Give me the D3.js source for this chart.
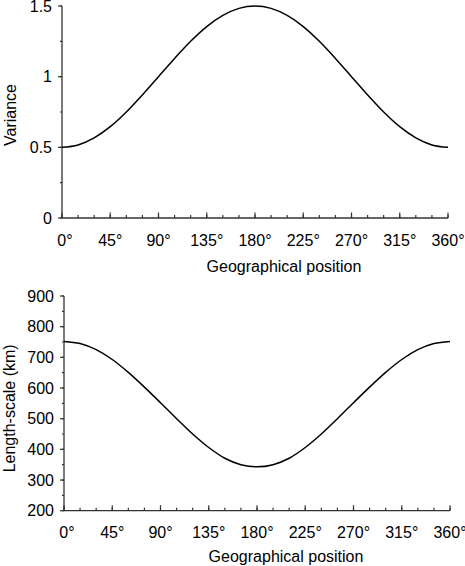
<html lang="en">
<head>
<meta charset="UTF-8">
<script src="https://d3js.org/d3.v7.min.js"></script>
<style>
  body { margin: 0; background: #fff; }
  text { font-family: "Liberation Sans", Arial, Helvetica, sans-serif; fill: #000; }
  .curve { fill: none; stroke: #000; stroke-width: 1.5; }
  .axis-line { stroke: #333; stroke-width: 1.3; }
  .tick { stroke: #333; stroke-width: 1.2; }
</style>
<script>
// geographical position (degrees), read every 15 degrees
var positions = [0, 15, 30, 45, 60, 75, 90, 105, 120, 135, 150, 165, 180,
                 195, 210, 225, 240, 255, 270, 285, 300, 315, 330, 345, 360];
var variance = [0.5, 0.517, 0.567, 0.646, 0.75, 0.871, 1.0, 1.129, 1.25, 1.354, 1.433, 1.483, 1.5,
                1.483, 1.433, 1.354, 1.25, 1.129, 1.0, 0.871, 0.75, 0.646, 0.567, 0.517, 0.5];
var lengthScale = [752, 745, 725, 693, 651, 603, 552, 500, 450, 406, 371, 350, 343,
                   350, 371, 406, 450, 500, 552, 603, 651, 693, 725, 745, 752];
var xTicks = [0, 45, 90, 135, 180, 225, 270, 315, 360];
var xMinor = d3.range(0, 361, 15);
var varTicks = [0, 0.5, 1, 1.5];
var varMinor = d3.range(0, 1.51, 0.25);
var lenTicks = [200, 300, 400, 500, 600, 700, 800, 900];
var lenMinor = d3.range(200, 901, 50);

function panel(svg, o){
  var x = d3.scaleLinear().domain([0, 360]).range([o.left, o.right]);
  var y = d3.scaleLinear().domain(o.domain).range([o.bottom, o.top]);
  var g = svg.append("g");

  // y axis
  g.append("line").attr("class", "axis-line")
    .attr("x1", o.left).attr("x2", o.left).attr("y1", o.bottom).attr("y2", o.top);
  g.selectAll(".ymin").data(o.minor).enter().append("line").attr("class", "tick")
    .attr("x1", o.left - 2).attr("x2", o.left)
    .attr("y1", function(d){ return y(d); }).attr("y2", function(d){ return y(d); });
  g.selectAll(".ymaj").data(o.ticks).enter().append("line").attr("class", "tick")
    .attr("x1", o.left - 4).attr("x2", o.left)
    .attr("y1", function(d){ return y(d); }).attr("y2", function(d){ return y(d); });
  g.selectAll(".ylab").data(o.ticks).enter().append("text")
    .attr("x", o.left - 10).attr("y", function(d){ return y(d); })
    .attr("dy", "0.36em").attr("text-anchor", "end").attr("font-size", 16)
    .text(function(d){ return d; });

  // x axis
  g.append("line").attr("class", "axis-line")
    .attr("x1", o.left).attr("x2", o.right).attr("y1", o.bottom).attr("y2", o.bottom);
  g.selectAll(".xmin").data(xMinor).enter().append("line").attr("class", "tick")
    .attr("x1", function(d){ return x(d); }).attr("x2", function(d){ return x(d); })
    .attr("y1", o.bottom).attr("y2", o.bottom - 3);
  g.selectAll(".xmaj").data(xTicks).enter().append("line").attr("class", "tick")
    .attr("x1", function(d){ return x(d); }).attr("x2", function(d){ return x(d); })
    .attr("y1", o.bottom).attr("y2", o.bottom - 5.5);
  g.selectAll(".xlab").data(xTicks).enter().append("text")
    .attr("x", function(d){ return x(d) + (d === 0 ? 3 : 0); })
    .attr("y", o.bottom + 27.5)
    .attr("text-anchor", "middle").attr("font-size", 16)
    .text(function(d){ return d + "\u00b0"; });

  g.append("text").attr("x", (o.left + o.right) / 2 + 29).attr("y", o.bottom + o.xTitleGap)
    .attr("text-anchor", "middle").attr("font-size", 16)
    .text("Geographical position");
  g.append("text")
    .attr("transform", "translate(" + o.titleX + "," + ((o.top + o.bottom) / 2 + o.titleShift) + ") rotate(-90)")
    .attr("text-anchor", "middle").attr("font-size", 16)
    .text(o.title);

  var line = d3.line()
    .x(function(d, i){ return x(positions[i]); })
    .y(function(d){ return y(d); })
    .curve(d3.curveMonotoneX);
  g.append("path").attr("class", "curve").attr("d", line(o.values));
}

function main(){
  var svg = d3.select("svg");
  panel(svg, {left: 62, right: 448, top: 6, bottom: 218, domain: [0, 1.5],
              ticks: varTicks, minor: varMinor, values: variance, xTitleGap: 53.5,
              title: "Variance", titleX: 16, titleShift: 3});
  panel(svg, {left: 64, right: 450, top: 296, bottom: 510.7, domain: [200, 900],
              ticks: lenTicks, minor: lenMinor, values: lengthScale, xTitleGap: 51,
              title: "Length-scale (km)", titleX: 15, titleShift: 5});
}
</script>
</head>
<body onload="main();">
<svg width="465" height="566"></svg>
</body>
</html>
